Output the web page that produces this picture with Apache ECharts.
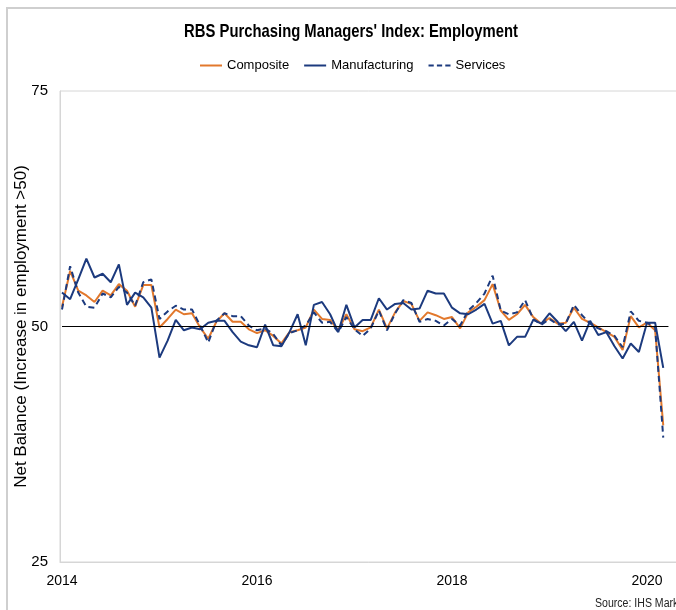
<!DOCTYPE html>
<html>
<head>
<meta charset="utf-8">
<script src="https://cdn.jsdelivr.net/npm/echarts@6/dist/echarts.min.js"></script>
<style>
  html, body { margin: 0; padding: 0; background: #fff; }
  #frame { position: absolute; left: 6px; top: 7px; width: 720px; height: 640px; border: 2px solid #cfcfcf; }
  #chart { position: absolute; left: 0; top: 0; width: 676px; height: 610px; }
</style>
</head>
<body>
<div id="frame"></div>
<div id="chart"></div>
<script>
// monthly readings, Jan 2014 onwards
var startYear = 2014;
var yearTicks = [2014, 2016, 2018, 2020];
var composite = [
  52.1, 55.9, 53.8, 53.3, 52.6, 53.8, 53.3, 54.5, 53.8, 52.1, 54.4, 54.4,
  49.9, 50.8, 51.8, 51.3, 51.4, 49.9, 48.7, 50.5, 51.4, 50.5, 50.5, 49.7,
  49.3, 49.6, 49.0, 48.2, 49.4, 49.6, 49.9, 51.8, 50.8, 50.7, 49.6, 51.3,
  49.7, 49.5, 49.9, 51.8, 49.8, 51.5, 52.7, 52.4, 50.6, 51.5, 51.2, 50.8,
  51.0, 49.8, 51.5, 52.1, 52.8, 54.5, 51.7, 50.7, 51.3, 52.3, 51.0, 50.3,
  50.9, 50.3, 50.4, 52.0, 50.8, 50.4, 49.9, 49.4, 48.9, 47.5, 51.1, 49.9,
  50.4, 49.6, 39.5
];
var manufacturing = [
  53.6, 52.9, 55.0, 57.2, 55.2, 55.6, 54.7, 56.6, 52.3, 53.6, 53.1, 52.0,
  46.7, 48.5, 50.7, 49.6, 49.9, 49.7, 50.4, 50.6, 50.6, 49.4, 48.4, 48.0,
  47.8, 50.2, 48.0, 47.9, 49.4, 51.3, 48.0, 52.3, 52.6, 51.3, 49.4, 52.3,
  49.9, 50.7, 50.7, 53.0, 51.8, 52.4, 52.5, 51.8, 51.9, 53.8, 53.5, 53.5,
  52.0, 51.4, 51.3, 51.8, 52.4, 50.3, 50.6, 48.0, 48.9, 48.9, 50.7, 50.3,
  51.4, 50.5, 49.5, 50.5, 48.5, 50.6, 49.1, 49.4, 47.9, 46.6, 48.2, 47.3,
  50.4, 50.4, 45.6
];
var services = [
  51.8, 56.4, 53.6, 52.1, 52.0, 53.5, 53.1, 54.2, 53.6, 52.2, 54.7, 55.0,
  50.8, 51.6, 52.2, 51.8, 51.8, 50.1, 48.3, 50.6, 51.4, 51.1, 51.1, 50.1,
  49.6, 49.8, 49.2, 48.0, 49.3, 49.6, 50.1, 51.5, 50.4, 50.5, 49.4, 51.0,
  49.7, 49.0, 49.8, 51.7, 49.6, 51.4, 52.8, 52.5, 50.5, 50.8, 50.6, 50.1,
  50.8, 50.1, 51.7, 52.5, 53.5, 55.4, 51.7, 51.3, 51.5, 52.8, 50.8, 50.2,
  50.8, 50.2, 50.3, 52.3, 51.2, 50.3, 49.8, 49.5, 49.0, 47.8, 51.6, 50.6,
  50.4, 49.9, 38.2
];

var FONT = "'Liberation Sans', Arial, sans-serif";
var orange = '#E2782C';
var navy = '#1C3A7E';
var solidIcon = 'path://M0,0h22v2h-22z';
var dashIcon = 'path://M0,0h5v2h-5zM8,0h5v2h-5zM16,0h5v2h-5z';

function toPoints(vals) {
  return vals.map(function(v, i) {
    return [startYear + i / 12, v];
  });
}

var chart = echarts.init(document.getElementById('chart'));
chart.setOption({
  animation: false,
  textStyle: { fontFamily: FONT, color: '#000' },
  graphic: [
    {
      type: 'text',
      x: 351,
      y: 32,
      scaleX: 0.78,
      style: {
        text: "RBS Purchasing Managers' Index: Employment",
        font: 'bold 19px ' + FONT,
        fill: '#000',
        align: 'center',
        verticalAlign: 'middle'
      }
    },
    {
      type: 'text',
      x: 595,
      y: 604,
      scaleX: 0.88,
      style: {
        text: 'Source: IHS Markit',
        font: '12px ' + FONT,
        fill: '#222',
        verticalAlign: 'middle'
      }
    }
  ],
  legend: {
    left: 200,
    top: 59,
    padding: 0,
    itemWidth: 22,
    itemHeight: 10,
    itemGap: 15,
    textStyle: { fontSize: 13, fontFamily: FONT, color: '#000' },
    data: [
      { name: 'Composite', icon: solidIcon },
      { name: 'Manufacturing', icon: solidIcon },
      { name: 'Services', icon: dashIcon }
    ]
  },
  grid: {
    left: 60,
    top: 91,
    right: -20,
    bottom: 48,
    outerBoundsMode: 'none',
    containLabel: false,
    show: true,
    borderColor: '#d6d6d6',
    borderWidth: 1
  },
  xAxis: {
    type: 'value',
    min: 2013.9795,
    max: 2020.5026,
    axisLine: { show: true, lineStyle: { color: '#d6d6d6' } },
    axisTick: { show: false },
    splitLine: { show: false },
    axisLabel: {
      customValues: yearTicks,
      formatter: function(v) { return String(Math.round(v)); },
      fontSize: 14,
      fontFamily: FONT,
      color: '#000',
      margin: 12
    }
  },
  yAxis: {
    type: 'value',
    min: 25,
    max: 75,
    interval: 25,
    name: 'Net Balance (Increase in employment >50)',
    nameLocation: 'middle',
    nameGap: 30,
    nameMoveOverlap: false,
    nameTextStyle: { fontSize: 17, fontFamily: FONT, color: '#000' },
    axisLine: { show: true, lineStyle: { color: '#d6d6d6' } },
    axisTick: { show: false },
    splitLine: { show: false },
    axisLabel: { fontSize: 15, fontFamily: FONT, color: '#000', margin: 12 }
  },
  series: [
    {
      name: 'Composite',
      type: 'line',
      symbol: 'none',
      data: toPoints(composite),
      lineStyle: { color: orange, width: 2 },
      itemStyle: { color: orange },
      markLine: {
        silent: true,
        symbol: 'none',
        label: { show: false },
        lineStyle: { color: '#000', width: 1.2, type: 'solid' },
        data: [[{ coord: [2014, 50] }, { coord: [2020.22, 50] }]]
      }
    },
    {
      name: 'Manufacturing',
      type: 'line',
      symbol: 'none',
      data: toPoints(manufacturing),
      lineStyle: { color: navy, width: 2 },
      itemStyle: { color: navy }
    },
    {
      name: 'Services',
      type: 'line',
      symbol: 'none',
      data: toPoints(services),
      lineStyle: { color: navy, width: 2, type: [6, 4] },
      itemStyle: { color: navy }
    }
  ]
});
</script>
</body>
</html>
